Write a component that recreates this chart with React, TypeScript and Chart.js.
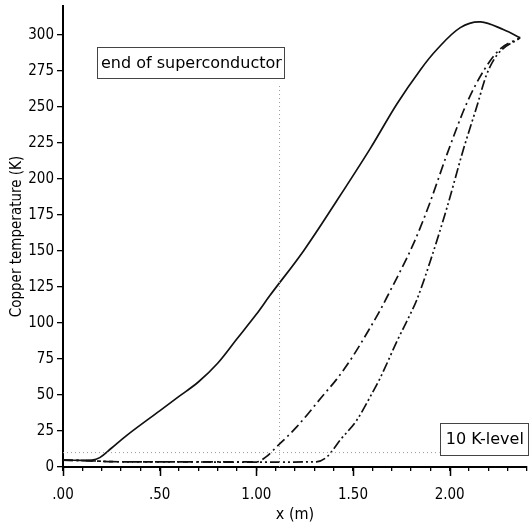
import React, { useEffect, useRef } from "react";
import { Chart, registerables } from "chart.js";

Chart.register(...registerables);

// Solid curve
const xSolid = [0, 0.15, 0.19, 0.25, 0.33, 0.5, 0.6, 0.7, 0.8, 0.9, 1.0, 1.07, 1.244, 1.417, 1.589, 1.727, 1.85, 1.935, 2.055, 2.16, 2.28, 2.365];
const tSolid = [4.8, 4.8, 6.5, 13, 22, 39, 49, 59, 72, 89, 106, 119, 150, 185, 221, 252, 276, 290, 305, 309, 303.5, 298];

// Dash-dot curve
const xDashDot = [0, 0.15, 0.25, 0.6, 1.0, 1.05, 1.105, 1.21, 1.347, 1.416, 1.5, 1.59, 1.641, 1.676, 1.813, 1.891, 1.986, 2.09, 2.18, 2.26, 2.365];
const tDashDot = [4.8, 4.3, 3.7, 3.5, 3.5, 7, 14, 28, 50, 61, 77, 97, 109, 118, 155, 181, 217, 253, 276, 290, 298];

// Dash-dot-dot curve
const xDashDotDot = [0, 0.15, 0.25, 0.6, 1.0, 1.31, 1.365, 1.434, 1.52, 1.59, 1.64, 1.73, 1.796, 1.83, 1.9, 1.986, 2.07, 2.14, 2.19, 2.245, 2.365];
const tDashDotDot = [4.8, 4.3, 3.7, 3.5, 3.4, 3.6, 7, 18.75, 32.6, 49, 61.6, 88, 106, 116, 143, 180, 220, 250, 272, 286, 298];

// Reference lines
const endOfSuperconductorX = 1.12;
const endLineTop = 265;
const levelK = 10;
const levelLineEnd = 1.95;

// Ticks
const xMajorValues = [0, 0.5, 1, 1.5, 2];
const xTickLabels = [".00", ".50", "1.00", "1.50", "2.00"];
const yMaxLabel = 300;

const labelEndSc = "end of superconductor";
const labelLevel = "10 K-level";

const FONT = '"DejaVu Sans Condensed", "DejaVu Sans", sans-serif';

const pts = (xs: number[], ys: number[]) => xs.map((x, i) => ({ x, y: ys[i] }));

const zeroPad = (s: any) => {
  s.paddingLeft = 0;
  s.paddingRight = 0;
  s.paddingTop = 0;
  s.paddingBottom = 0;
};

const decorPlugin = {
  id: "decor",
  afterDraw(chart: any) {
    const { ctx, chartArea } = chart;
    const xs = chart.scales.x;
    const ys = chart.scales.y;
    ctx.save();
    // longer major ticks
    ctx.strokeStyle = "#000";
    ctx.lineWidth = 1.5;
    ctx.beginPath();
    xMajorValues.forEach((v) => {
      const px = Math.round(xs.getPixelForValue(v)) + 0.5;
      ctx.moveTo(px, chartArea.bottom);
      ctx.lineTo(px, chartArea.bottom + 9);
    });
    ctx.stroke();

    const box = (text: string, x0: number, x1: number, y0: number, y1: number) => {
      ctx.fillStyle = "#fff";
      ctx.fillRect(x0, y0, x1 - x0, y1 - y0);
      ctx.strokeStyle = "#444";
      ctx.lineWidth = 1;
      ctx.strokeRect(Math.round(x0) + 0.5, Math.round(y0) + 0.5, Math.round(x1 - x0), Math.round(y1 - y0));
      ctx.fillStyle = "#000";
      ctx.font = '16px "DejaVu Sans", sans-serif';
      ctx.textAlign = "center";
      ctx.textBaseline = "middle";
      ctx.fillText(text, (x0 + x1) / 2 + 1, (y0 + y1) / 2 + 1);
    };
    box(
      labelEndSc,
      xs.getPixelForValue(0.175),
      xs.getPixelForValue(1.143),
      ys.getPixelForValue(291.7),
      ys.getPixelForValue(270)
    );
    box(
      labelLevel,
      xs.getPixelForValue(1.948),
      chartArea.right + 1,
      ys.getPixelForValue(30.8),
      ys.getPixelForValue(8.3)
    );
    ctx.restore();
  },
};

export default function App() {
  const ref = useRef<HTMLCanvasElement | null>(null);
  useEffect(() => {
    document.body.style.margin = "0";
    const canvas = ref.current;
    if (!canvas) return;
    const chart = new Chart(canvas, {
      type: "line",
      data: {
        datasets: [
          {
            data: pts([endOfSuperconductorX, endOfSuperconductorX], [0, endLineTop]),
            borderColor: "#9a9a9a",
            borderWidth: 1,
            borderDash: [1, 3],
            pointRadius: 0,
          },
          {
            data: pts([0, levelLineEnd], [levelK, levelK]),
            borderColor: "#9a9a9a",
            borderWidth: 1,
            borderDash: [1, 3],
            pointRadius: 0,
          },
          {
            data: pts(xSolid, tSolid),
            borderColor: "#111",
            borderWidth: 1.7,
            pointRadius: 0,
            tension: 0.35,
          },
          {
            data: pts(xDashDot, tDashDot),
            borderColor: "#111",
            borderWidth: 1.7,
            borderDash: [10, 4, 2, 4],
            pointRadius: 0,
            cubicInterpolationMode: "monotone",
          },
          {
            data: pts(xDashDotDot, tDashDotDot),
            borderColor: "#111",
            borderWidth: 1.7,
            borderDash: [10, 3, 2, 3, 2, 3],
            pointRadius: 0,
            cubicInterpolationMode: "monotone",
          },
        ],
      },
      options: {
        animation: false,
        responsive: false,
        maintainAspectRatio: false,
        layout: { padding: { top: 6, right: 2, left: 0, bottom: 0 } },
        plugins: { legend: { display: false }, tooltip: { enabled: false }, title: { display: false } },
        scales: {
          x: {
            type: "linear",
            min: 0,
            max: 2.4,
            afterFit: (s: any) => {
              s.height = 59;
              zeroPad(s);
            },
            ticks: {
              stepSize: 0.1,
              autoSkip: false,
              maxRotation: 0,
              padding: 15,
              color: "#000",
              font: { family: FONT, size: 15 },
              callback: (v: any) => {
                const i = xMajorValues.findIndex((m) => Math.abs(m - Number(v)) < 1e-6);
                return i >= 0 ? xTickLabels[i] : "";
              },
            },
            grid: { drawOnChartArea: false, drawTicks: true, tickLength: 4, color: "#000", lineWidth: 1.3 },
            border: { display: true, color: "#000", width: 2 },
            title: {
              display: true,
              text: "x (m)",
              color: "#000",
              font: { family: FONT, size: 16 },
              padding: { top: 0, bottom: 2 },
            },
          },
          y: {
            type: "linear",
            min: 0,
            max: 320,
            afterFit: (s: any) => {
              s.width = 63;
              zeroPad(s);
            },
            afterBuildTicks: (s: any) => {
              s.ticks = s.ticks.filter((t: any) => t.value <= yMaxLabel);
            },
            ticks: {
              stepSize: 25,
              padding: 3,
              color: "#000",
              font: { family: FONT, size: 15 },
            },
            grid: { drawOnChartArea: false, drawTicks: true, tickLength: 6, color: "#000", lineWidth: 1.3 },
            border: { display: true, color: "#000", width: 2 },
            title: {
              display: true,
              text: "Copper temperature (K)",
              color: "#000",
              font: { family: FONT, size: 15 },
              padding: { top: 8, bottom: 0 },
            },
          },
        },
      },
      plugins: [decorPlugin],
    });
    return () => chart.destroy();
  }, []);
  return (
    <div style={{ position: "absolute", left: 0, top: 0, width: 529, height: 526 }}>
      <canvas ref={ref} width={529} height={526} style={{ width: 529, height: 526, display: "block" }} />
    </div>
  );
}
